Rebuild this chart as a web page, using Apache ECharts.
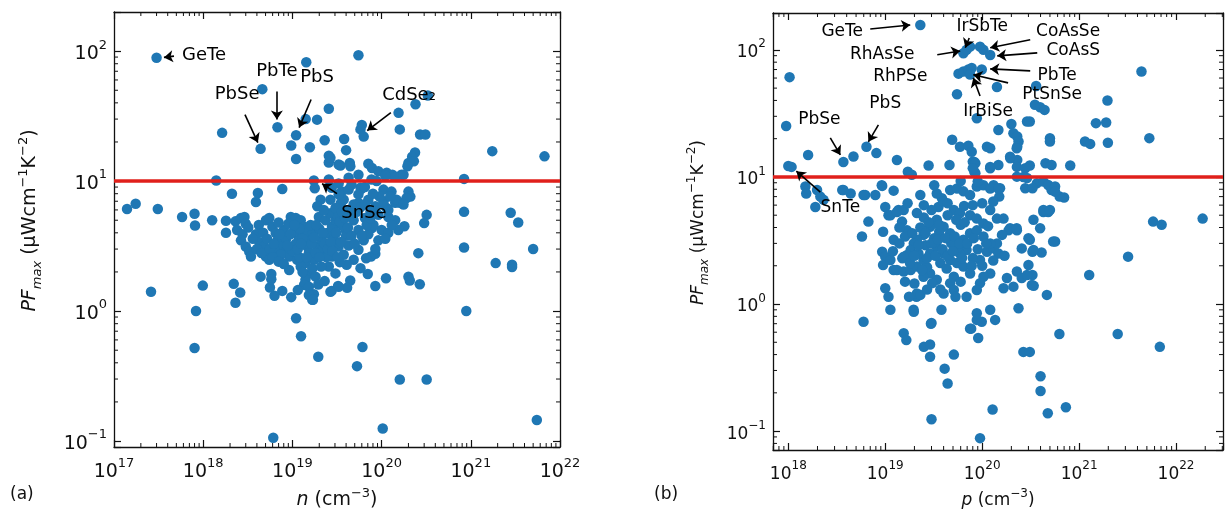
<!DOCTYPE html>
<html>
<head>
<meta charset="utf-8">
<script src="https://cdn.jsdelivr.net/npm/echarts@6/dist/echarts.min.js"></script>
<style>
html, body { margin: 0; padding: 0; background: #fff; }
#chart { width: 1230px; height: 517px; }
</style>
</head>
<body>
<div id="chart"></div>
<script>
// (a) n-type: [carrier concentration cm^-3, PFmax uW cm^-1 K^-2]
const nTypePoints = [
  [3.0e17, 89], [1.43e19, 82], [5.5e19, 93], [4.6e18, 51], [3.3e20, 45.5], [2.4e20, 39],
  [2.56e19, 36], [1.55e20, 33.5], [1.41e19, 30], [1.89e19, 29.7], [1.63e18, 23.5], [6.8e18, 26],
  [1.1e19, 22.5], [5.8e19, 25], [6.0e19, 27], [6.3e19, 22], [1.6e20, 25], [2.7e20, 22.8],
  [3.1e20, 22.8], [4.4e18, 17.7], [9.7e18, 18.8], [1.57e19, 18.2], [2.3e19, 20.6], [3.8e19, 21.1],
  [4.0e19, 17.3], [1.1e19, 14.8], [2.56e19, 15.7], [2.56e19, 13.9], [3.3e19, 13.4], [4.4e19, 13.8],
  [1.74e21, 17], [6.7e21, 15.5], [2.37e20, 16.6], [2.2e20, 15.4], [2.0e20, 13.8], [2.3e20, 14.2],
  [1.95e20, 13.0], [2.67e19, 15.1], [3.45e19, 13.2], [4.46e19, 13.0], [7.1e19, 13.6], [7.8e19, 12.6],
  [9.2e19, 11.9], [1.14e20, 11.6], [1.32e20, 11.2], [1.67e20, 11.2], [1.4e18, 10.1], [1.74e19, 10.1],
  [1.78e19, 8.8], [2.1e18, 8.0], [4.1e18, 8.1], [3.9e18, 6.9], [7.7e18, 8.7], [1.4e17, 6.1],
  [1.75e17, 6.7], [3.1e17, 6.1], [5.8e17, 5.3], [8.0e17, 5.6], [8.1e17, 4.55], [1.26e18, 5.0],
  [1.8e18, 4.95], [1.8e18, 4.0], [2.6e17, 1.41], [9.9e17, 1.57], [2.2e18, 1.62], [2.6e18, 1.39],
  [2.3e18, 1.16], [8.3e17, 1.0], [1.1e19, 0.88], [1.25e19, 0.64], [8.0e17, 0.52], [1.95e19, 0.445],
  [5.3e19, 0.377], [6.1e19, 0.53], [1.6e20, 0.298], [3.2e20, 0.298], [6.1e18, 0.106], [1.03e20, 0.125],
  [5.5e21, 0.145], [8.4e20, 10.4], [8.4e20, 5.8], [8.4e20, 3.08], [8.9e20, 1.0], [2.8e21, 5.7],
  [3.4e21, 4.8], [1.9e21, 2.34], [2.9e21, 2.27], [2.9e21, 2.18], [5.0e21, 3.0],
  [2.56e19, 10.3], [2.76e19, 8.9], [3.57e19, 8.3], [4.27e19, 10.6], [5.5e19, 11.2], [5.8e19, 8.9],
  [7.7e19, 10.3], [8.8e19, 10.0], [1.05e20, 8.6], [1.1e20, 11.0], [1.29e20, 8.3], [1.43e20, 10.8],
  [1.76e20, 11.2], [2.0e20, 8.3], [2.1e20, 7.6], [5.9e19, 8.7], [1.05e20, 7.0], [1.6e20, 6.8],
  [1.9e20, 7.4], [1.8e20, 4.5], [3.2e20, 5.5], [3.0e20, 4.75], [2.58e20, 2.79], [2.68e20, 1.61],
  [2.0e20, 1.84], [2.07e20, 1.72], [1.12e20, 1.79], [8.5e19, 1.56], [7.0e19, 1.93], [6.7e19, 2.55],
  [7.6e19, 2.63], [8.5e19, 2.76], [4.45e19, 1.72], [4.1e19, 1.51], [3.25e19, 1.56], [2.75e19, 1.43],
  [1.67e19, 1.22], [1.74e19, 1.35], [2.67e19, 7.2], [3.5e19, 6.8], [5.5e19, 6.8], [8.5e19, 6.4],
  [1.14e20, 6.2], [1.42e20, 6.8], [1.19e20, 5.3], [2.9e19, 4.45], [3.95e19, 4.2], [7.8e19, 4.35],
  [1.0e20, 4.2], [1.19e20, 4.0], [1.42e20, 5.0], [3.76e19, 7.2], [4.27e19, 6.0], [4.86e19, 5.0],
  [5.5e19, 4.2], [6.3e19, 3.5], [4.27e19, 3.2], [3.76e19, 2.71], [4.86e19, 2.48], [5.5e19, 2.96],
  [7.1e19, 3.9], [8.1e19, 4.6], [9.2e19, 5.5], [1.05e20, 6.6], [1.19e20, 6.0], [1.54e20, 4.2],
  [9.2e19, 3.5], [7.1e19, 7.2], [5.5e19, 7.9], [4.27e19, 8.6], [3.3e19, 7.9], [4.86e19, 6.6],
  [1.47e20, 7.2], [1.76e20, 6.6], [7.5e19, 5.8], [5.8e19, 2.14], [4.06e19, 2.27], [3.4e19, 2.38],
  [2.3e18, 4.9], [2.65e18, 5.2], [2.9e18, 5.3], [3.0e18, 4.7], [2.4e18, 4.2], [2.76e18, 3.9],
  [2.65e18, 3.5], [3.0e18, 3.14], [3.28e18, 2.87], [3.43e18, 2.63], [3.9e18, 3.9], [4.25e18, 3.4],
  [4.8e18, 3.14], [5.05e18, 5.0], [5.5e18, 5.2], [5.97e18, 4.45], [6.5e18, 3.98], [6.8e18, 3.5],
  [7.7e18, 3.14], [8.4e18, 2.87], [9.2e18, 2.63], [9.6e18, 5.3], [1.09e19, 5.2], [1.24e19, 5.0],
  [1.35e19, 4.45], [1.4e19, 3.98], [1.53e19, 3.5], [1.47e19, 3.14], [1.53e19, 2.8], [1.4e19, 2.34],
  [1.6e19, 1.95], [1.74e19, 2.48], [1.9e19, 3.14], [2.15e19, 3.5], [2.45e19, 3.98], [2.78e19, 4.45],
  [3.04e19, 5.0], [1.98e19, 5.3], [2.35e19, 5.0], [2.67e19, 5.65], [9.2e18, 2.07], [1.4e19, 1.74],
  [1.35e19, 1.59], [1.53e19, 1.54], [2.56e19, 2.2], [2.78e19, 2.63], [3.3e19, 3.14], [3.04e19, 1.95],
  [3.3e19, 1.54], [2.67e19, 1.41], [2.07e19, 7.2], [1.9e19, 6.4], [2.25e19, 6.0], [3.04e19, 6.2],
  [3.25e19, 5.3], [5.05e18, 2.63], [5.5e18, 2.48], [6.5e18, 2.87], [7.4e18, 2.71], [1.09e19, 3.3],
  [1.18e19, 3.75], [1.04e19, 4.1], [1.13e19, 2.48], [1.24e19, 2.2], [1.67e19, 2.13], [1.82e19, 1.84],
  [1.53e19, 1.33], [1.7e19, 1.22], [9.7e18, 1.28], [7.7e18, 1.43], [6.3e18, 1.31], [5.6e18, 1.52],
  [5.8e18, 1.93], [5.8e18, 1.76], [4.4e18, 1.84], [1.2e19, 4.3], [1.3e19, 3.6], [1.7e19, 4.0],
  [2.0e19, 4.3], [2.2e19, 3.0], [2.4e19, 2.6], [1.8e19, 2.8], [2.9e19, 3.6], [3.6e19, 4.6],
  [4.0e19, 3.8], [8.0e18, 4.2], [7.0e18, 4.8], [8.5e18, 3.6], [1.0e19, 2.9], [1.2e19, 2.6],
  [4.5e19, 5.6], [6.5e19, 5.2], [3.6e19, 5.8],
  [3.2e18, 4.4], [3.6e18, 3.6], [4.0e18, 3.0], [4.5e18, 2.8], [4.2e18, 4.6], [4.7e18, 4.0],
  [5.2e18, 3.6], [5.6e18, 3.0], [6.0e18, 2.6], [6.2e18, 3.3], [7.2e18, 3.9], [7.0e18, 2.4],
  [8.0e18, 2.3], [8.8e18, 3.2], [9.5e18, 3.9], [9.0e18, 4.7], [1.05e19, 4.6], [1.15e19, 3.0],
  [1.25e19, 3.3], [1.3e19, 2.0], [1.45e19, 2.6], [1.6e19, 4.6], [1.65e19, 3.3], [1.75e19, 3.7],
  [1.85e19, 4.6], [2.0e19, 2.6], [2.1e19, 2.2], [2.2e19, 4.0], [2.3e19, 3.3], [2.5e19, 3.0],
  [2.7e19, 3.4], [2.8e19, 2.9], [3.1e19, 4.0], [3.2e19, 2.6], [3.5e19, 3.4], [3.4e19, 4.9],
  [3.9e19, 5.2], [4.2e19, 4.4], [4.6e19, 3.8], [5.0e19, 3.3], [5.3e19, 5.8], [5.8e19, 6.3],
  [6.5e19, 6.6], [6.8e19, 4.6], [7.5e19, 5.2], [8.5e19, 3.0], [6.0e19, 3.8], [1.1e20, 3.6],
  [1.3e20, 4.6], [1.25e20, 7.6], [9.5e19, 7.6], [8.0e19, 8.0], [6.5e19, 9.0], [4.6e19, 9.4],
  [3.3e19, 9.6], [1.95e19, 1.6], [2.3e19, 1.7], [1.15e19, 1.45]
];

// (b) p-type
const pTypePoints = [
  [2.3e19, 157], [1.03e18, 61], [9.5e17, 25.2], [6.4e19, 94], [6.9e19, 100], [7.5e19, 106],
  [9.5e19, 106], [1.03e20, 100], [1.21e20, 91], [5.7e19, 65], [6.4e19, 67.5], [7.2e19, 70],
  [7.8e19, 72], [7.5e19, 64], [9.9e19, 70], [1.42e20, 51], [5.5e19, 44.8], [3.6e20, 52],
  [3.5e20, 37], [3.96e20, 35.4], [4.4e20, 33.7], [1.96e21, 40], [4.4e21, 67.5], [5.3e21, 20.2],
  [1.49e21, 26.5], [1.9e21, 26.8], [1.15e21, 19], [1.3e21, 18.2], [1.98e21, 18.6], [2.9e20, 27.3],
  [3.1e20, 27.3], [2.0e20, 26.1], [2.1e20, 22.1], [2.3e20, 20.8], [2.37e20, 19], [2.3e20, 17.3],
  [1.47e20, 23.4], [5.0e20, 20.2], [5.0e20, 19], [8.1e20, 12.3], [4.5e20, 12.8], [5.2e20, 12.4],
  [8.8e19, 29], [1.12e20, 17.3], [1.21e20, 16.8], [4.9e19, 19.6], [5.9e19, 17.3], [7.2e19, 17.6],
  [7.8e19, 15.8], [8.3e19, 13.1], [1.47e20, 12.4], [1.21e20, 12.0], [1.95e20, 14.0], [2.3e20, 13.6],
  [3.1e20, 12.3], [4.6e19, 12.4], [2.8e19, 12.3], [1.32e19, 13.6], [6.4e18, 17.3], [8.1e18, 15.4],
  [4.7e18, 14.5], [3.7e18, 13.1], [1.6e18, 14.9], [1.0e18, 12.2], [1.08e18, 12.0], [1.71e19, 11.0],
  [1.88e19, 10.4], [8.0e19, 13.2], [8.3e19, 11.0], [1.21e20, 11.7], [2.27e20, 16.8], [1.94e20, 14.4],
  [8.5e19, 12.8], [2.28e20, 12.0], [2.78e20, 11.7], [2.66e20, 10.0], [3.66e20, 8.9], [5.2e20, 7.9],
  [6.3e20, 7.0], [8.5e19, 10.7], [8.0e19, 11.7], [2.28e20, 10.05], [2.9e20, 9.8], [2.78e20, 8.15],
  [3.3e20, 8.15], [4.28e20, 9.2], [4.8e20, 8.65], [5.65e20, 8.4], [5.65e20, 7.66], [7.0e20, 6.9],
  [1.53e20, 8.15], [1.5e20, 7.0], [1.31e20, 8.6], [4.28e20, 5.3], [4.8e20, 5.3], [1.87e20, 3.8],
  [2.28e20, 3.8], [3.1e20, 3.2], [2.56e20, 2.74], [3.3e20, 2.58], [4.1e20, 2.54], [5.65e20, 3.1],
  [3.0e20, 2.03], [2.28e20, 1.8], [2.56e20, 1.6], [3.3e20, 1.69], [3.4e20, 1.39], [6.26e20, 0.58],
  [2.5e21, 0.58], [6.8e21, 0.46], [2.66e20, 0.42], [3.1e20, 0.42],
  [1.5e18, 8.4], [1.53e18, 7.4], [1.98e18, 7.9], [2.14e18, 7.0], [2.31e18, 6.6], [1.9e18, 5.8],
  [3.6e18, 7.9], [4.4e18, 7.4], [6.2e18, 7.2], [7.9e18, 7.2], [6.7e18, 4.45], [5.75e18, 3.4],
  [9.3e18, 8.5], [1.22e19, 7.8], [1.0e19, 5.8], [1.08e19, 5.0], [9.5e18, 3.7], [1.37e19, 5.5],
  [1.55e19, 5.5], [9.3e18, 2.58], [1.0e19, 2.36], [9.5e18, 2.03], [1.0e19, 1.33], [1.08e19, 1.14],
  [1.13e19, 0.90], [5.97e18, 0.725], [1.55e19, 0.59], [1.65e19, 0.52], [1.96e19, 0.90], [2.1e19, 1.14],
  [2.5e19, 0.46], [2.9e19, 0.48], [3.0e19, 0.71], [3.8e19, 0.90], [8.8e19, 0.75], [9.1e19, 0.54],
  [7.5e19, 0.64], [1.21e20, 0.90], [1.36e20, 0.75],
  [9.2e18, 8.6], [1.13e19, 5.0], [1.32e19, 5.3], [1.49e19, 4.45], [2.3e19, 7.2], [3.4e19, 7.4],
  [3.84e19, 6.8], [3.54e19, 5.8], [4.0e19, 6.4], [4.67e19, 7.9], [5.5e19, 8.1], [6.4e19, 7.7],
  [7.5e19, 7.2], [8.8e19, 8.4], [1.03e20, 8.6], [1.21e20, 8.1], [1.47e20, 8.1], [5.1e19, 5.5],
  [5.9e19, 5.2], [7.5e19, 5.0], [8.8e19, 4.7], [1.03e20, 4.3], [1.21e20, 5.5], [1.42e20, 4.7],
  [1.66e20, 4.7], [1.94e20, 3.95], [2.27e20, 3.95], [3.0e20, 3.3], [3.38e20, 4.6], [3.96e20, 3.95],
  [4.28e20, 5.5], [5.0e20, 5.5], [5.4e20, 3.1], [3.38e20, 2.66], [2.9e20, 1.69], [3.25e20, 1.41],
  [4.65e20, 1.18], [2.1e20, 1.37], [1.66e20, 1.33], [1.21e20, 1.74], [1.03e20, 1.64], [9.5e19, 1.46],
  [8.8e19, 1.29], [9.5e19, 2.22], [1.12e20, 2.58], [1.31e20, 2.74], [1.47e20, 2.5], [1.42e20, 3.0],
  [4.67e19, 3.6], [4.0e19, 4.06], [3.4e19, 4.6], [2.9e19, 4.06], [2.48e19, 3.5], [2.12e19, 3.2],
  [1.97e19, 3.0], [1.83e19, 2.66], [1.68e19, 2.43], [1.5e19, 2.29], [1.22e19, 1.85], [1.13e19, 2.22],
  [1.32e19, 1.85], [1.55e19, 1.8], [1.83e19, 1.85], [2.12e19, 1.97], [2.48e19, 2.22], [2.9e19, 2.5],
  [3.4e19, 2.83], [4.0e19, 2.5], [4.67e19, 2.22], [5.5e19, 2.1], [6.4e19, 1.97], [7.5e19, 1.74],
  [5.1e19, 1.64], [4.67e19, 1.46], [5.1e19, 1.29], [5.3e19, 1.14], [6.9e19, 1.14], [4.0e19, 1.21],
  [3.4e19, 1.55], [3.05e19, 1.46], [2.9e19, 1.74], [2.48e19, 1.64], [2.12e19, 1.21], [1.76e19, 1.14],
  [2.3e19, 1.18], [1.55e19, 2.36], [6.4e19, 3.2], [7.5e19, 3.6], [8.8e19, 3.8], [1.03e20, 3.4],
  [1.21e20, 3.0], [6.9e19, 2.66], [5.9e19, 2.5], [1.97e19, 0.87], [2.96e19, 0.70], [5.97e18, 7.2],
  [3.7e18, 7.9], [1.22e19, 3.2], [1.68e19, 3.8], [2.12e19, 5.2], [2.6e19, 2.9], [3.2e19, 3.3],
  [3.7e19, 2.1], [4.3e19, 1.9], [2.2e19, 2.5], [2.7e19, 1.95], [3.6e19, 3.7], [5.6e19, 2.8],
  [4.8e19, 3.0], [6.0e19, 4.2], [3.0e19, 5.5], [2.5e19, 4.8], [8.0e19, 2.3], [1.0e20, 2.0],
  [1.4e19, 3.0], [1.6e19, 3.4], [1.8e19, 2.1], [1.9e19, 3.6], [2.0e19, 2.4], [2.2e19, 2.9],
  [2.3e19, 4.0], [2.4e19, 1.85], [2.6e19, 3.6], [2.7e19, 2.3], [2.8e19, 4.4], [3.0e19, 3.0],
  [3.3e19, 2.4], [3.5e19, 3.2], [3.6e19, 4.2], [3.9e19, 2.7], [4.2e19, 3.3], [4.4e19, 2.4],
  [4.4e19, 5.0], [5.0e19, 2.6], [5.2e19, 3.4], [5.4e19, 4.6], [5.8e19, 3.0], [6.2e19, 2.3],
  [6.6e19, 4.4], [7.0e19, 3.0], [7.8e19, 2.0], [8.2e19, 3.3], [9.0e19, 2.7], [1.1e20, 3.0],
  [1.15e20, 4.1], [1.3e20, 2.2], [1.6e20, 3.5], [1.7e20, 2.4], [1.8e20, 1.6], [1.6e19, 1.5],
  [2.0e19, 1.45], [2.7e19, 1.3], [3.7e19, 1.3], [6.0e19, 1.5], [1.4e19, 4.0], [1.2e19, 2.6],
  [1.7e19, 6.2], [2.5e19, 6.0], [4.4e19, 6.2], [6.5e19, 5.9], [8.0e19, 6.0], [1.0e20, 6.2],
  [1.3e20, 6.4], [3.2e19, 8.6], [9.0e19, 9.2], [6.0e19, 9.3],
  [5.8e21, 4.45], [7.1e21, 4.2], [1.88e22, 4.7], [3.2e21, 2.36], [1.27e21, 1.69], [2.37e20, 0.925],
  [9.9e19, 0.725], [8.8e19, 0.845], [2.9e19, 0.385], [5.1e19, 0.40], [4.1e19, 0.31], [4.4e19, 0.237],
  [3.0e19, 0.124], [7.7e19, 0.64], [4.0e20, 0.27], [4.0e20, 0.207], [4.75e20, 0.138], [7.3e20, 0.154],
  [1.28e20, 0.148], [9.5e19, 0.088]
];

// compound labels: [text, x, y] (text centre, data units)
const nLabels = [
  ['GeTe', 1.02e18, 92.7], ['PbSe', 2.4e18, 46.4], ['PbTe', 6.7e18, 69.8],
  ['PbS', 1.89e19, 62.8], ['CdSe\u2082', 2.03e20, 45.6], ['SnSe', 6.35e19, 5.7]
];
const pLabels = [
  ['GeTe', 3.6e18, 138.6], ['IrSbTe', 1.0e20, 152], ['CoAsSe', 7.7e20, 138.6],
  ['RhAsSe', 9.3e18, 91.4], ['CoAsS', 8.7e20, 98], ['RhPSe', 1.43e19, 61.3],
  ['PbTe', 5.93e20, 62.4], ['PtSnSe', 5.27e20, 44.2], ['IrBiSe', 1.15e20, 32.5],
  ['PbS', 1.0e19, 37.6], ['PbSe', 2.09e18, 28.1], ['SnTe', 3.44e18, 5.7]
];
// arrows: [x1, y1, x2, y2] tail -> head
const nArrows = [
  [4.7e17, 91.5, 3.63e17, 89.5], [2.94e18, 32.5, 4.1e18, 19.8], [6.7e18, 49, 6.7e18, 29.8],
  [1.62e19, 42.4, 1.19e19, 25.8], [1.27e20, 33.7, 6.9e19, 24.5], [3.16e19, 8.0, 2.15e19, 9.55]
];
const pArrows = [
  [7.0e18, 146, 1.81e19, 157], [7.35e19, 124, 6.7e19, 104], [3.13e20, 120, 1.21e20, 104],
  [3.44e19, 91.4, 5.93e19, 98], [3.7e20, 94.7, 1.43e20, 89.7], [3.13e20, 68.3, 1.21e20, 70.8],
  [1.85e20, 55, 8.1e19, 63.6], [9.5e19, 43.4, 8.1e19, 60.2], [8.5e18, 25.7, 6.7e18, 18.9],
  [2.71e18, 20.3, 3.44e18, 14.9], [2.14e18, 7.6, 1.21e18, 11.1]
];

const PF_LIMIT = 10;
const nRange = { x: [1e17, 1e22], y: [0.09, 200] };
const pRange = { x: [6.95e17, 3.05e22], y: [0.071, 195] };

const FONT = 'DejaVu Sans';
const INK = '#111';
const BLUE = '#1f77b4';

function powLabel(v) {
  const e = Math.log10(v);
  const r = Math.round(e);
  if (Math.abs(e - r) > 1e-6) return '';
  return '{b|10}{s|' + (r < 0 ? '\u2212' + (-r) : r) + '}';
}

function tickRich(size) {
  return {
    b: { fontSize: size, fontFamily: FONT, color: INK, lineHeight: size + 6, verticalAlign: 'bottom' },
    s: { fontSize: Math.round(size * 0.7), fontFamily: FONT, color: INK, lineHeight: size + 6, verticalAlign: 'top' }
  };
}

function nameRich(fs) {
  const small = Math.round(fs * 0.7);
  return {
    i: { fontSize: fs, fontFamily: FONT, fontStyle: 'italic', color: INK, lineHeight: fs + 8, verticalAlign: 'middle' },
    m: { fontSize: small, fontFamily: FONT, fontStyle: 'italic', color: INK, lineHeight: fs + 8, verticalAlign: 'bottom' },
    n: { fontSize: fs, fontFamily: FONT, color: INK, lineHeight: fs + 8, verticalAlign: 'middle' },
    s: { fontSize: small, fontFamily: FONT, color: INK, lineHeight: fs + 8, verticalAlign: 'top' }
  };
}

function minorValues(min, max) {
  const out = [];
  for (let k = Math.floor(Math.log10(min)); k <= Math.ceil(Math.log10(max)); k++) {
    for (let m = 2; m <= 9; m++) {
      const v = m * Math.pow(10, k);
      if (v > min * 1.001 && v < max * 0.999) out.push(v);
    }
  }
  return out;
}

function makeAxes(grid, range, fs, xName) {
  const line = { show: true, lineStyle: { color: INK, width: 1.3 } };
  const tick = { show: true, inside: true, length: 7, lineStyle: { color: INK, width: 1.2 } };
  const xa = [
    {
      gridIndex: grid, type: 'log', min: range.x[0], max: range.x[1], position: 'bottom',
      axisLine: line, axisTick: tick, splitLine: { show: false },
      axisLabel: { formatter: powLabel, margin: 10, rich: tickRich(fs), showMinLabel: true, showMaxLabel: true },
      name: xName, nameLocation: 'middle', nameGap: 36,
      nameTextStyle: { rich: nameRich(fs) }
    },
    {
      gridIndex: grid, type: 'log', min: range.x[0], max: range.x[1], position: 'top',
      axisLine: line, axisTick: tick, splitLine: { show: false }, axisLabel: { show: false }
    }
  ];
  const ya = [
    {
      gridIndex: grid, type: 'log', min: range.y[0], max: range.y[1], position: 'left',
      axisLine: line, axisTick: tick, splitLine: { show: false },
      axisLabel: { formatter: powLabel, margin: 7, rich: tickRich(fs) },
      name: '{i|PF}{m|max}{n| (\u03bcWcm}{s|\u22121}{n|K}{s|\u22122}{n|)}',
      nameLocation: 'middle', nameRotate: 90, nameGap: grid === 0 ? 70 : 62,
      nameTextStyle: { rich: nameRich(fs), padding: [0, 0, 0, 18] }
    },
    {
      gridIndex: grid, type: 'log', min: range.y[0], max: range.y[1], position: 'right',
      axisLine: line, axisTick: tick, splitLine: { show: false }, axisLabel: { show: false }
    }
  ];
  return { xa, ya };
}

function minorSeries(xIdx, yIdx, range) {
  const st = { stroke: INK, lineWidth: 1 };
  const xs = minorValues(range.x[0], range.x[1]).map(v => [v, range.y[0], 0]);
  const ys = minorValues(range.y[0], range.y[1]).map(v => [range.x[0], v, 1]);
  return {
    type: 'custom', xAxisIndex: xIdx, yAxisIndex: yIdx, silent: true, clip: false, z: 5,
    data: xs.concat(ys),
    renderItem: function (params, api) {
      const cs = params.coordSys;
      const p = api.coord([api.value(0), api.value(1)]);
      if (api.value(2) === 0) {
        const x = p[0];
        return { type: 'group', children: [
          { type: 'line', shape: { x1: x, y1: cs.y + cs.height, x2: x, y2: cs.y + cs.height - 4 }, style: st },
          { type: 'line', shape: { x1: x, y1: cs.y, x2: x, y2: cs.y + 4 }, style: st }
        ] };
      }
      const y = p[1];
      return { type: 'group', children: [
        { type: 'line', shape: { x1: cs.x, y1: y, x2: cs.x + 4, y2: y }, style: st },
        { type: 'line', shape: { x1: cs.x + cs.width, y1: y, x2: cs.x + cs.width - 4, y2: y }, style: st }
      ] };
    }
  };
}

function dataSeries(xIdx, yIdx, pts) {
  return {
    type: 'scatter', xAxisIndex: xIdx, yAxisIndex: yIdx, data: pts,
    symbolSize: 10.5, itemStyle: { color: BLUE, opacity: 1 }, silent: true,
    markLine: {
      silent: true, symbol: 'none', label: { show: false }, animation: false,
      lineStyle: { color: '#e0201b', width: 3.5, type: 'solid', opacity: 1 },
      data: [{ yAxis: PF_LIMIT }]
    }
  };
}

function noteSeries(xIdx, yIdx, labels, arrows, fs) {
  return {
    type: 'scatter', xAxisIndex: xIdx, yAxisIndex: yIdx, silent: true, z: 6,
    symbolSize: 1, itemStyle: { color: '#000', opacity: 0 },
    data: labels.map(l => ({ name: l[0], value: [l[1], l[2]] })),
    label: {
      show: true, position: 'inside', formatter: '{b}', color: '#000', opacity: 1,
      textBorderWidth: 0, fontFamily: FONT, fontSize: fs
    },
    markLine: {
      silent: true, symbol: ['none', 'arrow'], symbolSize: 9, label: { show: false }, animation: false,
      lineStyle: { color: '#000', width: 1.6, type: 'solid', opacity: 1 },
      emphasis: { disabled: true },
      data: arrows.map(a => [{ coord: [a[0], a[1]] }, { coord: [a[2], a[3]] }])
    }
  };
}

const chart = echarts.init(document.getElementById('chart'));

const axA = makeAxes(0, nRange, 19, '{i|n}{n| (cm}{s|\u22123}{n|)}');
const axB = makeAxes(1, pRange, 17, '{i|p}{n| (cm}{s|\u22123}{n|)}');

const option = {
  animation: false,
  backgroundColor: '#fff',
  grid: [
    { left: 114, top: 12, width: 446, height: 435 },
    { left: 773, top: 13, width: 450, height: 437 }
  ],
  xAxis: axA.xa.concat(axB.xa),
  yAxis: axA.ya.concat(axB.ya),
  graphic: [
    { type: 'text', left: 10, top: 486, style: { text: '(a)', font: '17px "DejaVu Sans"', fill: INK } },
    { type: 'text', left: 654, top: 486, style: { text: '(b)', font: '17px "DejaVu Sans"', fill: INK } }
  ],
  series: [
    dataSeries(0, 0, nTypePoints),
    dataSeries(2, 2, pTypePoints),
    noteSeries(0, 0, nLabels, nArrows, 18),
    noteSeries(2, 2, pLabels, pArrows, 17),
    minorSeries(0, 0, nRange),
    minorSeries(2, 2, pRange)
  ]
};

chart.setOption(option);
</script>
</body>
</html>
